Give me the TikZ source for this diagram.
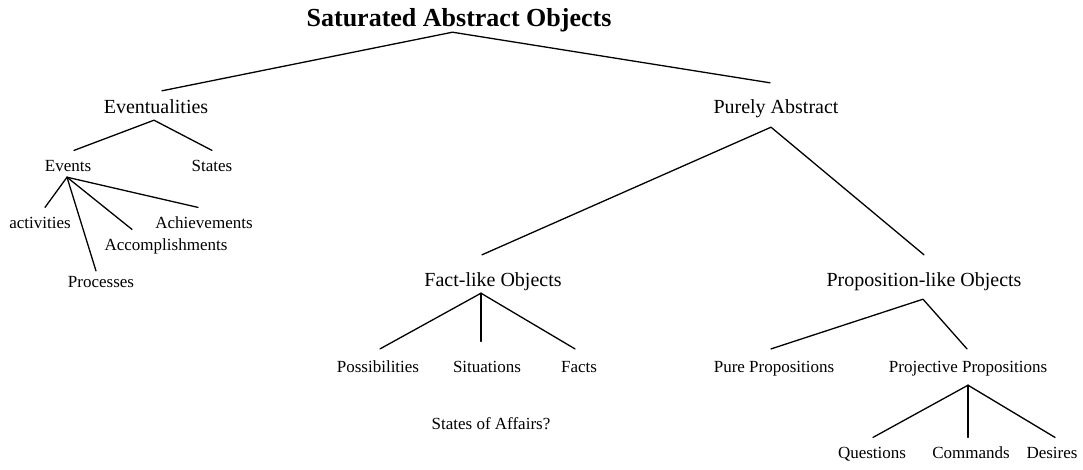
\documentclass[tikz,border=0pt]{standalone}
\usepackage{fontspec}
\setmainfont{Liberation Serif}
\begin{document}
\begin{tikzpicture}[x=1pt,y=-1pt,
  lbl/.style={anchor=base, inner sep=0pt},
  big/.style={lbl, text height=24pt, text depth=7pt, font=\fontsize{20}{24}\selectfont},
  small/.style={lbl, text height=20.4pt, text depth=6pt, font=\fontsize{17}{20}\selectfont},
  ttl/.style={lbl, text height=30pt, text depth=9pt, font=\fontsize{26}{30}\selectfont\bfseries},
  conn/.style={line width=1.3pt, black, line cap=round, line join=round}]
\useasboundingbox[fill=white] (0,0) rectangle (1083,469);

\node[ttl] (sao) at (459,26) {Saturated Abstract Objects};
\node[big] (ev) at (156,113) {Eventualities};
\node[big] (pa) at (776,113) {Purely Abstract};
\node[small] (evt) at (68,171) {Events};
\node[small] (st) at (212,171) {States};
\node[small] (act) at (40,228) {activities};
\node[small] (ach) at (204,228) {Achievements};
\node[small] (acc) at (166,250) {Accomplishments};
\node[small] (pro) at (101,287) {Processes};
\node[big] (fl) at (493,286) {Fact-like Objects};
\node[big] (pl) at (924,286) {Proposition-like Objects};
\node[small] (pos) at (378,372) {Possibilities};
\node[small] (sit) at (487,372) {Situations};
\node[small] (fac) at (579,372) {Facts};
\node[small] (soa) at (491,429) {States of Affairs?};
\node[small] (pp) at (774,372) {Pure Propositions};
\node[small] (pj) at (968,372) {Projective Propositions};
\node[small] (q) at (872,458) {Questions};
\node[small] (c) at (971,458) {Commands};
\node[small] (d) at (1052,458) {Desires};

% root
\draw[conn] ([xshift=6pt,yshift=-2pt]ev.north) -- ([xshift=-6.5pt,yshift=3pt]sao.south) -- ([xshift=-6pt,yshift=6pt]pa.north);
% eventualities
\draw[conn] ([xshift=6pt]evt.north) -- ([xshift=-2pt]ev.south) -- (st.north);
% events
\coordinate (evtA) at ([xshift=-1pt]evt.south);
\draw[conn] (evtA) -- ([xshift=5pt]act.north);
\draw[conn] (evtA) -- ([xshift=-5pt,yshift=-4.5pt]pro.north);
\draw[conn] (evtA) -- ([xshift=-34pt]acc.north);
\draw[conn] (evtA) -- ([xshift=-6pt]ach.north);
% purely abstract
\draw[conn] ([xshift=-11pt,yshift=7pt]fl.north) -- ([xshift=-5pt,yshift=-7pt]pa.south) -- ([yshift=7pt]pl.north);
% fact-like
\coordinate (flA) at ([xshift=-12pt]fl.south);
\draw[conn] (flA) -- ([xshift=2pt,yshift=2.5pt]pos.north);
\draw[conn] (flA) -- ([xshift=-6pt,yshift=10pt]sit.north);
\draw[conn] (flA) -- ([xshift=-4pt,yshift=2.5pt]fac.north);
% proposition-like
\draw[conn] ([xshift=-3pt,yshift=2.5pt]pp.north) -- ([xshift=-1pt,yshift=-6pt]pl.south) -- ([xshift=-1pt,yshift=2.5pt]pj.north);
% projective
\coordinate (pjA) at ([yshift=-7pt]pj.south);
\draw[conn] (pjA) -- ([xshift=1pt]q.north);
\draw[conn] (pjA) -- ([xshift=-3pt]c.north);
\draw[conn] (pjA) -- ([xshift=3pt]d.north);
\end{tikzpicture}
\end{document}
